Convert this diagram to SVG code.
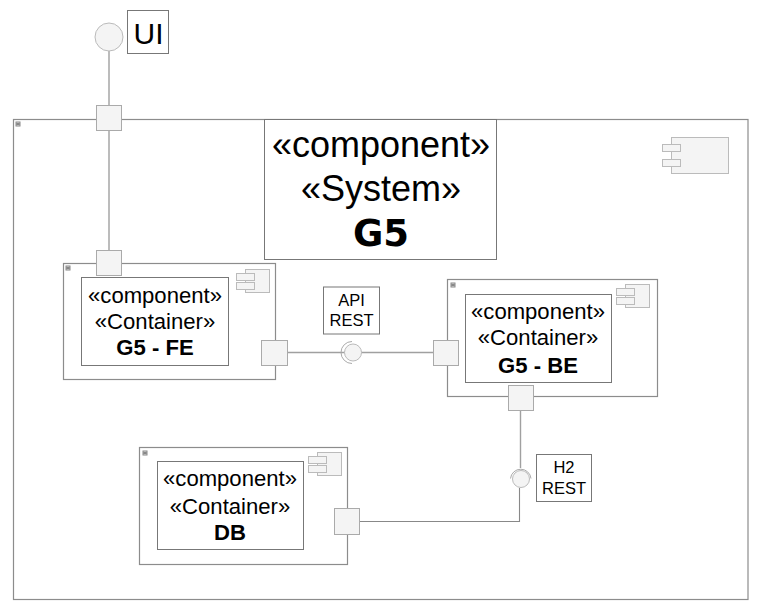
<svg xmlns="http://www.w3.org/2000/svg" width="757" height="611" viewBox="0 0 757 611">
<defs>
<g id="cicon">
<rect x="9" y="0" width="24" height="23" class="ic"/>
<rect x="0" y="4" width="18" height="7" class="ic"/>
<rect x="0" y="13" width="18" height="7" class="ic"/>
</g>
<g id="cminus"><rect x="0" y="0" width="4" height="4" fill="#ddd" stroke="#888" stroke-width="1"/><path d="M0.500 2H3.500" stroke="#333" stroke-width="1"/></g>
</defs>
<style>
text{font-family:"Liberation Sans",Arial,sans-serif;fill:#000;text-anchor:middle}
.box{fill:#fff;stroke:#8c8c8c;stroke-width:1.2}
.lab{fill:#fff;stroke:#777;stroke-width:1}
.port{fill:#f4f4f4;stroke:#aaa;stroke-width:1}
.ic{fill:#f4f4f4;stroke:#bbb;stroke-width:1}
.conn{fill:none;stroke:#a0a0a0;stroke-width:1.4}
.conn2{fill:none;stroke:#888;stroke-width:1.1}
.ring{fill:none;stroke:#aaa;stroke-width:1}
.big{font-size:36px}
.mid{font-size:22.100px}
.small{font-size:16.500px}
.b{font-weight:bold}
</style>
<rect width="757" height="611" fill="#fff"/>
<g id="system-G5">
<rect x="13.500" y="119.500" width="734.500" height="480" class="box"/>
<use href="#cminus" x="16" y="122"/>
<g id="system-icon">
<rect x="671.500" y="137.500" width="57" height="36" class="ic"/>
<rect x="662.500" y="144.500" width="18" height="7" class="ic"/>
<rect x="662.500" y="159.500" width="18" height="7" class="ic"/>
</g>
<rect x="264.500" y="119.500" width="232" height="140" class="lab"/>
<text x="381" y="157" class="big">«component»</text>
<text x="381" y="201" class="big">«System»</text>
<text x="381" y="246" font-size="37" class="b" style="font-family:'DejaVu Sans',sans-serif">G5</text>
</g>
<g id="connectors">
<path class="conn" d="M109 51V105M109 131V250"/>
<path class="conn" d="M288 352.500H345M361 352.500H433"/>
<path class="conn" d="M520.500 411V468"/>
<path class="conn2" d="M519.500 488V521.500H360"/>
</g>
<g id="actor-UI">
<circle cx="109" cy="37" r="14" fill="#f4f4f4" stroke="#bbb" stroke-width="1"/>
<rect x="127.500" y="10.500" width="41" height="43" class="lab"/>
<text x="148.500" y="44" font-size="30">UI</text>
</g>
<g id="container-G5-FE">
<rect x="63.500" y="263.500" width="212" height="116" class="box"/>
<use href="#cminus" x="66" y="266"/>
<use href="#cicon" x="236.500" y="269.500"/>
<rect x="81.500" y="277.500" width="147" height="88" class="lab"/>
<text x="155" y="303" class="mid">«component»</text>
<text x="155" y="329" class="mid">«Container»</text>
<text x="155" y="355" class="mid b">G5 - FE</text>
</g>
<g id="container-G5-BE">
<rect x="447.500" y="279.500" width="210" height="117" class="box"/>
<use href="#cminus" x="451" y="283"/>
<use href="#cicon" x="616.500" y="284.500"/>
<rect x="465.500" y="294.500" width="146" height="88" class="lab"/>
<text x="538" y="319" class="mid">«component»</text>
<text x="538" y="345" class="mid">«Container»</text>
<text x="538" y="373" class="mid b">G5 - BE</text>
</g>
<g id="container-DB">
<rect x="139.500" y="447.500" width="208" height="117" class="box"/>
<use href="#cminus" x="143" y="451"/>
<use href="#cicon" x="308.500" y="452.500"/>
<rect x="157.500" y="461.500" width="146" height="88" class="lab"/>
<text x="230" y="486" class="mid">«component»</text>
<text x="230" y="514" class="mid">«Container»</text>
<text x="230" y="540" class="mid b">DB</text>
</g>
<g id="port-UI"><rect x="96.500" y="105.500" width="25" height="25" class="port"/></g>
<g id="port-FE-top"><rect x="96.500" y="250.500" width="25" height="25" class="port"/></g>
<g id="port-FE-right"><rect x="261.500" y="340.500" width="26" height="25" class="port"/></g>
<g id="port-BE-left"><rect x="433.500" y="340.500" width="25" height="25" class="port"/></g>
<g id="port-BE-bottom"><rect x="508.500" y="385.500" width="25" height="25" class="port"/></g>
<g id="port-DB"><rect x="334.500" y="508.500" width="25" height="26" class="port"/></g>
<g id="iface-API">
<path class="ring" d="M352 341.500A11 11 0 0 0 352 363.500"/>
<circle cx="353" cy="352.500" r="8.500" fill="#f4f4f4" stroke="#bbb" stroke-width="1"/>
<rect x="323.500" y="287" width="56" height="47" class="lab"/>
<text x="351.500" y="306" class="small">API</text>
<text x="351.500" y="326" class="small">REST</text>
</g>
<g id="iface-H2">
<path class="ring" d="M510.500 478.500A10.300 10.300 0 0 1 531 478.500"/>
<circle cx="521" cy="479" r="8.500" fill="#f4f4f4" stroke="#bbb" stroke-width="1"/>
<rect x="536.500" y="454.500" width="55" height="47" class="lab"/>
<text x="564" y="473" class="small">H2</text>
<text x="564" y="494" class="small">REST</text>
</g>
</svg>
